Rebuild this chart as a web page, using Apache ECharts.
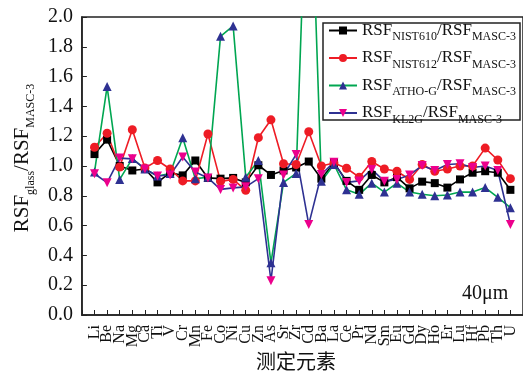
<!DOCTYPE html>
<html>
<head>
<meta charset="utf-8">
<script src="https://cdn.jsdelivr.net/npm/echarts@6/dist/echarts.min.js"></script>
<style>html,body{margin:0;padding:0;background:#fff;}#c{width:523px;height:376px;}</style>
</head>
<body>
<div id="c"></div>
<script>
const categories = ['Li','Be','Na','Mg','Ca','Ti','V','Cr','Mn','Fe','Co','Ni','Cu','Zn','As','Sr','Zr','Cd','Ba','La','Ce','Pr','Nd','Sm','Eu','Gd','Dy','Ho','Er','Lu','Hf','Pb','Th','U'];
const seriesNames = ['NIST610','NIST612','ATHO-G','KL2G'];
const nist610 = [1.08,1.177,1.0,0.97,0.98,0.89,0.955,0.937,1.037,0.92,0.915,0.92,0.89,1.005,0.94,0.97,0.99, 1.03,0.915,1.02,0.90,0.84,0.94,0.89,0.925,0.85,0.895,0.885,0.855,0.91,0.955,0.965,0.955,0.84];
const nist612 = [1.126,1.22,0.993,1.243,0.986,1.037,0.98,0.90,0.90,1.215,0.897,0.91,0.837,1.19,1.31,1.015,1.01, 1.23,1.00,1.02,0.985,0.925,1.03,0.98,0.965,0.91,1.01,0.965,0.98,1.00,1.00,1.12,1.04,0.915];
const athoG = [0.96,1.533,0.91,1.05,0.98,0.933,0.95,1.19,0.915,0.925,1.87,1.94,0.925,1.037,0.35,0.89,0.95, 3.4,0.897,1.01,0.84,0.81,0.885,0.825,0.885,0.825,0.81,0.80,0.805,0.825,0.825,0.855,0.79,0.72];
const kl2g = [0.948,0.888,1.053,1.048,0.98,0.933,0.94,1.06,0.96,0.92,0.843,0.853,0.86,0.915,0.23,0.94,1.077, 0.608,0.943,1.026,0.89,0.90,0.977,0.897,0.91,0.94,1.003,0.97,1.01,1.015,0.99,1.00,0.97,0.608];
const yTicks = ['0.0','0.2','0.4','0.6','0.8','1.0','1.2','1.4','1.6','1.8','2.0'];

const serif = "'Liberation Serif','Times New Roman',serif";
const chart = echarts.init(document.getElementById('c'), null, {renderer:'canvas'});
const toPts = arr => arr.map((v,i)=>[i+1, v]);
function mk(name, data, lineColor, symColor, symbol, size, rotate){
  return {
    name, type:'line', data: toPts(data), symbol, symbolSize:size, symbolRotate: rotate||0,
    lineStyle:{color:lineColor, width:1.6},
    itemStyle:{color:symColor},
    clip:true, animation:false, z:2
  };
}
chart.setOption({
  animation:false,
  grid:{left:72, top:17, bottom:61, right:-3, show:true, borderColor:'#222', borderWidth:1.5},
  legend:{
    orient:'vertical', left:328, top:18, z:6,
    padding:0, itemGap:2.5, itemWidth:28, itemHeight:10,
    data: seriesNames,
    formatter: n => '{m|RSF}{s|' + n + '}{m|/RSF}{s|MASC-3}',
    textStyle:{
      fontFamily:serif, color:'#111',
      rich:{
        m:{fontSize:17, fontFamily:serif, lineHeight:18, color:'#111'},
        s:{fontSize:12, fontFamily:serif, lineHeight:2, padding:[13,0,0,0], color:'#111'}
      }
    }
  },
  xAxis:{
    type:'value', min:0, max:35, interval:1,
    axisLine:{show:true, lineStyle:{color:'#222', width:1.5}},
    axisTick:{inside:true, length:5, lineStyle:{color:'#222', width:1}},
    splitLine:{show:false},
    axisLabel:{
      rotate:90, margin:10, fontFamily:serif, fontSize:16, color:'#111',
      formatter: v => categories[v-1] || ''
    }
  },
  yAxis:{
    type:'value', min:0, max:2.0, interval:0.2,
    axisLine:{show:true, lineStyle:{color:'#222', width:1.5}},
    axisTick:{inside:true, length:5, lineStyle:{color:'#222', width:1}},
    splitLine:{show:false},
    axisLabel:{fontFamily:serif, fontSize:20, color:'#111', margin:9,
      formatter: v => yTicks[Math.round(v*5)]},
    name:'{m|RSF}{s|glass}{m|/RSF}{s|MASC-3}',
    nameLocation:'middle', nameRotate:90, nameGap:38,
    nameTextStyle:{
      padding:[0,0,0,16],
      rich:{
        m:{fontSize:21, fontFamily:serif, lineHeight:22, color:'#111'},
        s:{fontSize:12, fontFamily:serif, lineHeight:2, padding:[17,0,0,0], color:'#111'}
      }
    }
  },
  graphic:[
    {type:'rect', z:5, shape:{x:323, y:23, width:197, height:97}, style:{fill:'#fff', stroke:'#222', lineWidth:1.5}},
    {type:'text', left:462, top:284, style:{text:'40μm', font:"20px 'Liberation Serif', serif", fill:'#111'}},
    {type:'text', left:256, top:351, style:{text:'测定元素', font:"20px 'Noto Sans CJK SC', sans-serif", fill:'#111'}}
  ],
  series:[
    mk('NIST610', nist610, '#000', '#000', 'rect', 8),
    mk('NIST612', nist612, '#ee1c25', '#ee1c25', 'circle', 9),
    mk('ATHO-G', athoG, '#00a651', '#2e3192', 'triangle', 9),
    mk('KL2G', kl2g, '#2e3192', '#ec008c', 'triangle', 9, 180)
  ]
});
</script>
</body>
</html>
